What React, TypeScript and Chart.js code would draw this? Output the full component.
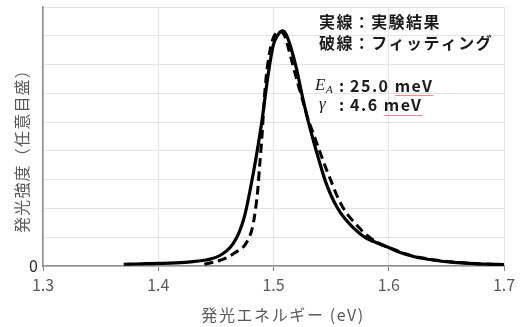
import React, { useEffect, useRef } from 'react';
import { Chart, registerables } from 'chart.js';

Chart.register(...registerables);

// ---- data ----
const energyMeasured = [
  1.37, 1.38, 1.39, 1.40, 1.41, 1.42, 1.43, 1.44, 1.445, 1.45, 1.455, 1.46, 1.465, 1.47, 1.475,
  1.48, 1.485, 1.49, 1.495, 1.50, 1.505, 1.508, 1.511, 1.515, 1.52, 1.525, 1.53, 1.535, 1.54,
  1.545, 1.55, 1.555, 1.56, 1.57, 1.58, 1.59, 1.60, 1.61, 1.62, 1.63, 1.64, 1.65, 1.66, 1.67,
  1.68, 1.69, 1.70,
];
const intensityMeasured = [
  0.06, 0.07, 0.08, 0.09, 0.10, 0.12, 0.15, 0.2, 0.24, 0.3, 0.4, 0.55, 0.78, 1.15, 1.75,
  2.7, 3.8, 5.05, 6.55, 7.7, 8.1, 8.17, 8.05, 7.6, 6.85, 5.9, 5.05, 4.3, 3.6,
  2.95, 2.45, 2.05, 1.75, 1.3, 0.98, 0.8, 0.64, 0.47, 0.35, 0.26, 0.2, 0.15, 0.12, 0.09,
  0.07, 0.06, 0.05,
];
const energyFit = [
  1.44, 1.45, 1.455, 1.46, 1.465, 1.47, 1.475, 1.48, 1.483, 1.486, 1.488, 1.49,
  1.492, 1.494, 1.497, 1.50, 1.503, 1.506, 1.509, 1.512, 1.516, 1.52, 1.525, 1.53, 1.535, 1.54,
  1.545, 1.55, 1.555, 1.56, 1.565, 1.57, 1.575, 1.58, 1.59, 1.60, 1.62, 1.64, 1.66, 1.68, 1.70,
];
const intensityFit = [
  0.06, 0.15, 0.22, 0.3, 0.42, 0.55, 0.72, 1.1, 1.6, 2.5, 3.5, 4.5,
  5.8, 6.7, 7.5, 7.95, 8.12, 8.15, 8.05, 7.7, 7.1, 6.5, 5.8, 5.1, 4.55, 4.0,
  3.45, 2.95, 2.45, 2.05, 1.75, 1.52, 1.3, 1.1, 0.82, 0.64, 0.36, 0.21, 0.12, 0.07, 0.05,
];
const xTicks = [1.3, 1.4, 1.5, 1.6, 1.7];
const yMax = 9;
const xTitle = '発光エネルギー (eV)';
const yTitle = '発光強度（任意目盛）';
const legendLines = ['実線：実験結果', '破線：フィッティング'];
const paramEA = ['E', 'A', '25.0 ', 'meV'];
const paramGamma = ['γ', '4.6 ', 'meV'];

const SANS = '"Noto Sans CJK JP", "Noto Sans", sans-serif';
const SERIF = '"Liberation Serif", "DejaVu Serif", serif';

const textPlugin = {
  id: 'texts',
  afterDraw(chart: any) {
    const ctx = chart.ctx as CanvasRenderingContext2D;
    ctx.save();
    const c: any = ctx;
    // axis titles
    ctx.fillStyle = '#595959';
    ctx.textBaseline = 'middle';
    ctx.textAlign = 'center';
    c.letterSpacing = '1.6px';
    ctx.font = `16px ${SANS}`;
    ctx.fillText(xTitle, 283, 315);
    ctx.save();
    ctx.translate(22, 147);
    ctx.rotate(-Math.PI / 2);
    c.letterSpacing = '1.2px';
    ctx.fillText(yTitle, 0, 0);
    ctx.restore();

    // annotation
    ctx.textAlign = 'left';
    ctx.fillStyle = '#1a1a1a';
    c.letterSpacing = '1.4px';
    ctx.font = `bold 16px ${SANS}`;
    ctx.fillText(legendLines[0], 319, 22);
    ctx.fillText(legendLines[1], 319, 43);

    c.letterSpacing = '0px';
    ctx.font = `italic 17px ${SERIF}`;
    ctx.fillText(paramEA[0], 315, 85.5);
    ctx.font = `italic 11px ${SERIF}`;
    ctx.fillText(paramEA[1], 326, 90);
    ctx.font = `italic 17px ${SERIF}`;
    ctx.fillText(paramGamma[0], 319, 105);

    ctx.font = `bold 16px ${SANS}`;
    ctx.fillText(':', 339, 85.5);
    ctx.fillText(':', 339, 105);
    c.letterSpacing = '1.5px';
    ctx.fillText(paramEA[2], 350, 85.5);
    let w = ctx.measureText(paramEA[2]).width;
    ctx.fillText(paramEA[3], 350 + w, 85.5);
    let w2 = ctx.measureText(paramEA[3]).width;
    ctx.strokeStyle = '#f08c8c';
    ctx.lineWidth = 1;
    ctx.beginPath();
    ctx.moveTo(350 + w, 95.5);
    ctx.lineTo(350 + w + w2, 95.5);
    ctx.stroke();

    ctx.fillText(paramGamma[1], 350, 105);
    w = ctx.measureText(paramGamma[1]).width;
    ctx.fillText(paramGamma[2], 350 + w, 105);
    w2 = ctx.measureText(paramGamma[2]).width;
    ctx.beginPath();
    ctx.moveTo(350 + w, 115.5);
    ctx.lineTo(350 + w + w2, 115.5);
    ctx.stroke();
    ctx.restore();
  },
};

export default function App() {
  const ref = useRef<HTMLCanvasElement | null>(null);
  useEffect(() => {
    if (!ref.current) return;
    const chart = new Chart(ref.current, {
      type: 'line',
      data: {
        datasets: [
          {
            label: '実験結果',
            data: energyMeasured.map((x, i) => ({ x, y: intensityMeasured[i] })),
            borderColor: '#000',
            borderWidth: 3.2,
            pointRadius: 0,
            fill: false,
            tension: 0.3,
          },
          {
            label: 'フィッティング',
            data: energyFit.map((x, i) => ({ x, y: intensityFit[i] })),
            borderColor: '#000',
            borderWidth: 3,
            borderDash: [9, 5],
            pointRadius: 0,
            fill: false,
            tension: 0.3,
          },
        ],
      },
      options: {
        responsive: false,
        animation: false,
        layout: { padding: { top: 7, right: 16, left: 0, bottom: 0 } },
        plugins: { legend: { display: false }, tooltip: { enabled: false } },
        scales: {
          x: {
            type: 'linear',
            min: xTicks[0],
            max: xTicks[xTicks.length - 1],
            afterBuildTicks: (s: any) => {
              s.ticks = xTicks.map((v) => ({ value: v }));
            },
            afterFit: (s: any) => {
              s.height = 61;
              s.paddingLeft = 0;
              s.paddingRight = 0;
            },
            ticks: {
              callback: (v: any) => Number(v).toFixed(1),
              font: { family: SANS, size: 16 },
              color: '#595959',
              padding: 4,
              maxRotation: 0,
            },
            grid: { color: '#e4e4e4', tickLength: 5, tickColor: '#808080', lineWidth: 1 },
            border: { color: '#8c8c8c', width: 1.5 },
          },
          y: {
            min: 0,
            max: yMax,
            afterFit: (s: any) => {
              s.width = 43;
              s.paddingTop = 0;
              s.paddingBottom = 0;
            },
            ticks: {
              stepSize: 1,
              callback: (v: any) => (v === 0 ? '0' : ''),
              font: { family: SANS, size: 16 },
              color: '#262626',
              padding: 5,
            },
            grid: { color: '#e4e4e4', drawTicks: false, lineWidth: 1 },
            border: { color: '#8c8c8c', width: 1.5 },
          },
        },
      },
      plugins: [textPlugin],
    } as any);
    return () => chart.destroy();
  }, []);
  return (
    <div style={{ position: 'absolute', left: 0, top: 0, width: 520, height: 327, background: '#fff' }}>
      <canvas ref={ref} width={520} height={327} style={{ display: 'block' }} />
    </div>
  );
}
